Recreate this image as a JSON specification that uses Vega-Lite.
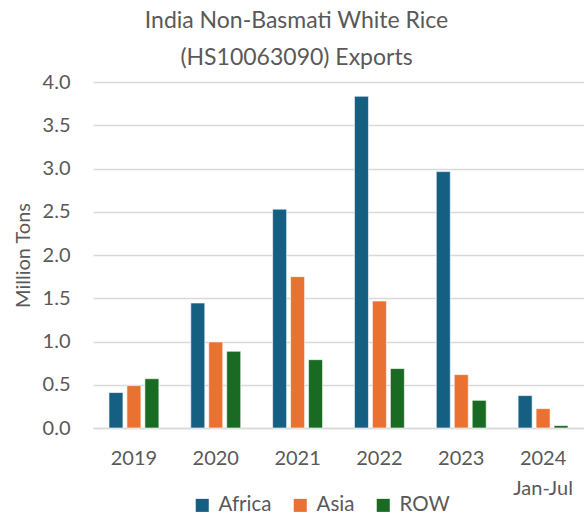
{
  "$schema": "https://vega.github.io/schema/vega-lite/v6.json",
  "width": 491,
  "height": 346,
  "autosize": {"type": "none"},
  "padding": {"left": 93, "top": 82, "right": 0, "bottom": 88},
  "background": "white",
  "title": {
    "text": ["India Non-Basmati White Rice", "(HS10063090) Exports"],
    "font": "Lato",
    "fontSize": 23,
    "fontWeight": "normal",
    "color": "#595959",
    "anchor": "middle",
    "dx": -42,
    "offset": 2,
    "lineHeight": 37
  },
  "data": {
    "values": [
      {"year": "2019", "region": "Africa", "value": 0.41},
      {"year": "2019", "region": "Asia", "value": 0.49},
      {"year": "2019", "region": "ROW", "value": 0.57},
      {"year": "2020", "region": "Africa", "value": 1.445},
      {"year": "2020", "region": "Asia", "value": 0.995},
      {"year": "2020", "region": "ROW", "value": 0.887},
      {"year": "2021", "region": "Africa", "value": 2.53},
      {"year": "2021", "region": "Asia", "value": 1.75},
      {"year": "2021", "region": "ROW", "value": 0.79},
      {"year": "2022", "region": "Africa", "value": 3.835},
      {"year": "2022", "region": "Asia", "value": 1.468},
      {"year": "2022", "region": "ROW", "value": 0.687},
      {"year": "2023", "region": "Africa", "value": 2.964},
      {"year": "2023", "region": "Asia", "value": 0.617},
      {"year": "2023", "region": "ROW", "value": 0.32},
      {"year": "2024", "region": "Africa", "value": 0.375},
      {"year": "2024", "region": "Asia", "value": 0.224},
      {"year": "2024", "region": "ROW", "value": 0.028}
    ]
  },
  "mark": {"type": "bar", "stroke": "white", "strokeWidth": 0.6},
  "encoding": {
    "x": {
      "field": "year",
      "type": "nominal",
      "scale": {"paddingInner": 0.39, "paddingOuter": 0.195},
      "axis": {
        "title": null,
        "labelAngle": 0,
        "labelFont": "Lato",
        "labelFontSize": 20,
        "labelColor": "#595959",
        "labelPadding": 20,
        "labelLineHeight": 30,
        "labelExpr": "datum.value == '2024' ? ['2024', 'Jan-Jul'] : datum.value",
        "ticks": false,
        "domainColor": "#d9d9d9",
        "domainWidth": 1.5
      }
    },
    "xOffset": {
      "field": "region",
      "type": "nominal",
      "scale": {"paddingInner": 0.22}
    },
    "y": {
      "field": "value",
      "type": "quantitative",
      "scale": {"domain": [0, 4]},
      "axis": {
        "title": "Million Tons",
        "titleFont": "Lato",
        "titleFontSize": 20,
        "titleFontWeight": "normal",
        "titleColor": "#595959",
        "titlePadding": 9,
        "values": [0, 0.5, 1, 1.5, 2, 2.5, 3, 3.5, 4],
        "format": ".1f",
        "labelFont": "Lato",
        "labelFontSize": 20,
        "labelColor": "#595959",
        "labelPadding": 23,
        "ticks": false,
        "domain": false,
        "gridColor": "#d9d9d9",
        "gridWidth": 1.5
      }
    },
    "color": {
      "field": "region",
      "type": "nominal",
      "scale": {"domain": ["Africa", "Asia", "ROW"], "range": ["#156082", "#E97132", "#196B24"]},
      "legend": {
        "title": null,
        "orient": "none",
        "direction": "horizontal",
        "legendX": 99,
        "legendY": 413,
        "symbolType": "square",
        "symbolSize": 170,
        "symbolStrokeWidth": 0,
        "labelFont": "Lato",
        "labelFontSize": 20.5,
        "labelColor": "#595959",
        "labelOffset": 6,
        "columnPadding": 18,
        "padding": 0
      }
    }
  },
  "config": {"view": {"stroke": null}}
}
